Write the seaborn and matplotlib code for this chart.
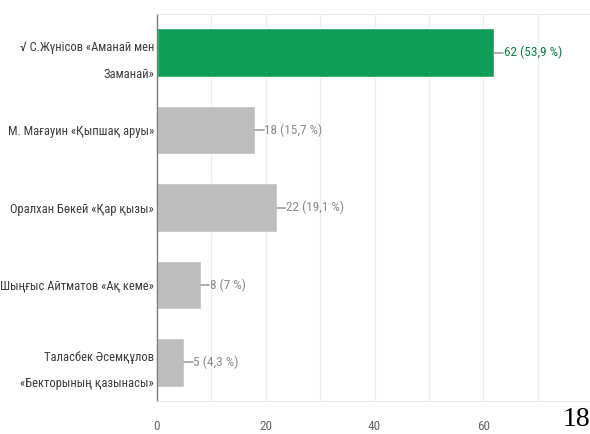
import matplotlib
matplotlib.use("Agg")
import matplotlib.pyplot as plt
import seaborn as sns
import pandas as pd

answers = [
    "√ С.Жүнісов «Аманай мен\nЗаманай»",
    "М. Мағауин «Қыпшақ аруы»",
    "Оралхан Бөкей «Қар қызы»",
    "Шыңғыс Айтматов «Ақ кеме»",
    "Таласбек Әсемқұлов\n«Бекторының қазынасы»",
]
counts = [62, 18, 22, 8, 5]
percents = ["53,9", "15,7", "19,1", "7", "4,3"]
bar_colors = ["#0f9d58", "#bdbdbd", "#bdbdbd", "#bdbdbd", "#bdbdbd"]
label_colors = ["#0b8043", "#8a8a8a", "#8a8a8a", "#8a8a8a", "#8a8a8a"]
xticks = [0, 20, 40, 60]

sns.set_style("white")
plt.rcParams['font.family'] = ['Roboto Condensed', 'DejaVu Sans']

df = pd.DataFrame({'answer': answers, 'count': counts})

fig = plt.figure(figsize=(5.9, 4.34), dpi=100)
ax = fig.add_axes([157 / 590, 33 / 434, 433 / 590, 387 / 434])

sns.barplot(data=df, y='answer', x='count', hue='answer', palette=bar_colors,
            legend=False, width=0.63, ax=ax, orient='h', saturation=1)

ax.set_xlim(0, 79.6)
ax.set_ylim(4.5, -0.5)
ax.set_xlabel('')
ax.set_ylabel('')

# grid lines every 10
for v in range(10, 80, 10):
    ax.axvline(v, color='#ececec', lw=0.9, zorder=0)

ax.spines['right'].set_visible(False)
ax.spines['top'].set_color('#e6e6e6')
ax.spines['bottom'].set_color('#e6e6e6')
ax.spines['left'].set_color('#7a7a7a')
ax.spines['left'].set_linewidth(1.0)

ax.set_xticks(xticks)
ax.tick_params(axis='x', length=0, pad=14, labelsize=9.5, labelcolor='#666666')
ax.tick_params(axis='y', length=0, pad=2, labelsize=9, labelcolor='#3c3c3c')
for t in ax.get_yticklabels():
    t.set_linespacing(2.35)

for i, (c, p) in enumerate(zip(counts, percents)):
    ax.plot([c, c + 1.6], [i, i], color='#9e9e9e', lw=1.2)
    ax.text(c + 1.7, i, f"{c} ({p} %)", va='center', ha='left',
            fontsize=9.5, color=label_colors[i])

# page number from the source document
fig.text(0.953, 0.062, "18", fontsize=20, family='Liberation Serif',
         color='black', ha='left', va='top')

plt.savefig('out.png', dpi=100)
